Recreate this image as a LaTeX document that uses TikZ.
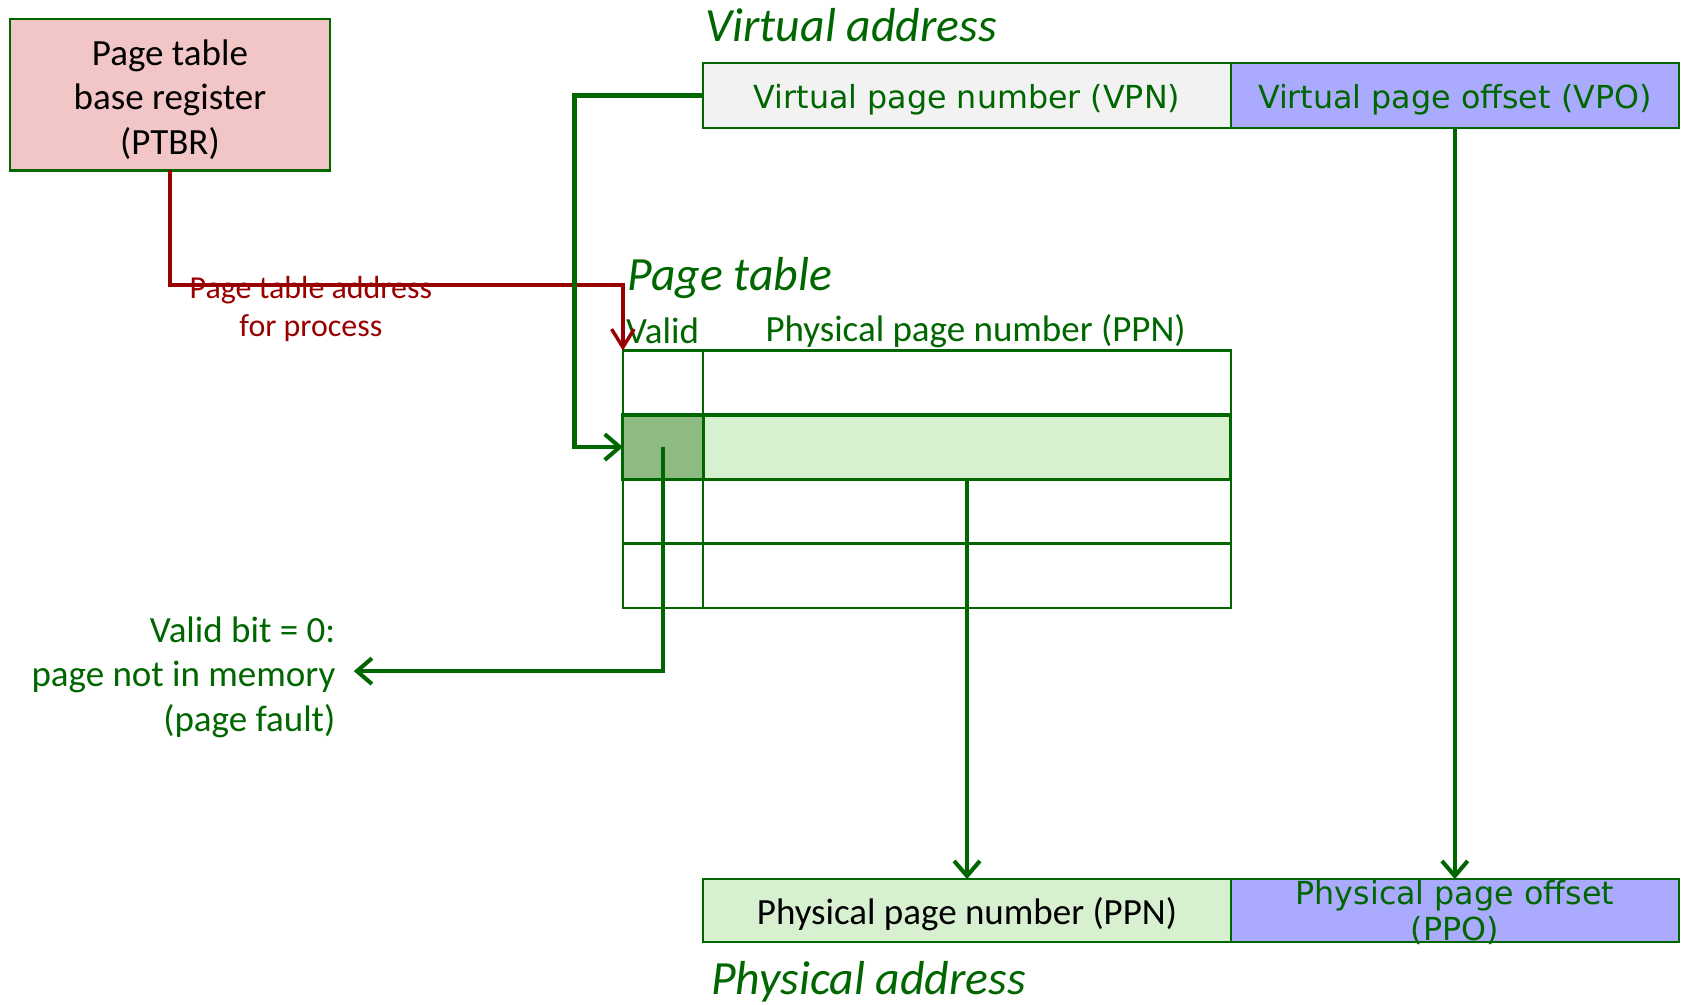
\documentclass[tikz,border=0pt]{standalone}
\usepackage{fontspec}
\setmainfont{Carlito}
\newfontfamily\dejavu{DejaVu Sans}
\usetikzlibrary{arrows.meta}

\definecolor{dkgreen}{RGB}{0,102,0}
\definecolor{dkred}{RGB}{153,0,0}
\definecolor{ptbrpink}{RGB}{242,198,198}
\definecolor{rowgreen}{RGB}{214,240,208}
\definecolor{validgreen}{RGB}{141,187,130}
\definecolor{offsetblue}{RGB}{170,170,255}
\definecolor{vpngray}{RGB}{242,242,242}

\tikzset{
  cell/.style={draw=dkgreen, line width=2pt, inner sep=0pt, outer sep=0pt},
  bodytext/.style={font=\fontsize{34.5}{41.5}\selectfont, inner sep=0pt},
  dvtext/.style={font=\dejavu\fontsize{29.6}{34}\selectfont, text=dkgreen, inner sep=0pt},
  heading/.style={font=\fontsize{44.5}{53}\selectfont\itshape, text=dkgreen, inner sep=0pt, anchor=west},
  link/.style={draw=dkgreen, line width=4pt,
    -{Straight Barb[length=14pt,width=24pt,line width=3.8pt]}},
  redlink/.style={draw=dkred, line width=3.8pt,
    -{Straight Barb[length=17pt,width=21pt,line width=3.2pt]}},
}

\begin{document}
\begin{tikzpicture}[x=1pt, y=-1pt]
\useasboundingbox (0,0) rectangle (1568,937);

% page table base register
\node[cell, fill=ptbrpink, minimum width=299pt, minimum height=141pt] (ptbr) at (158.5,88.5) {};
\node[bodytext, align=center, yshift=-4.5pt] (ptbrtext) at (ptbr.center)
      {Page table\\base register\\(PTBR)};

% virtual address
\node[heading] (vatitle) at (658,23) {Virtual address};
\node[cell, fill=vpngray, minimum width=492pt, minimum height=60pt] (vpn) at (902,89) {};
\node[dvtext, yshift=-4pt] (vpntext) at (vpn.center) {Virtual page number (VPN)};
\node[cell, fill=offsetblue, minimum width=418pt, minimum height=60pt] (vpo) at (1357,89) {};
\node[dvtext, yshift=-4pt] (vpotext) at (vpo.center) {Virtual page offset (VPO)};

% page table
\node[heading] (pttitle) at (585,259) {Page table};
\node[bodytext, text=dkgreen] (validhead) at (618,309) {Valid};
\node[bodytext, text=dkgreen] (ppnhead) at (910,309) {Physical page number (PPN)};

\node[cell, minimum width=75pt, minimum height=60pt] (v1) at (618.5,357) {};
\node[cell, minimum width=492pt, minimum height=60pt] (p1) at (902,357) {};
\node[cell, fill=validgreen, minimum width=75pt, minimum height=60pt, line width=3pt] (v2) at (618.5,417) {};
\node[cell, fill=rowgreen, minimum width=492pt, minimum height=60pt, line width=3pt] (p2) at (902,417) {};
\node[cell, minimum width=75pt, minimum height=60pt] (v3) at (618.5,477) {};
\node[cell, minimum width=492pt, minimum height=60pt] (p3) at (902,477) {};
\node[cell, minimum width=75pt, minimum height=60pt] (v4) at (618.5,537) {};
\node[cell, minimum width=492pt, minimum height=60pt] (p4) at (902,537) {};

% physical address
\node[cell, fill=rowgreen, minimum width=492pt, minimum height=59pt] (ppn) at (902,849.5) {};
\node[bodytext, yshift=-3pt] (ppntext) at (ppn.center) {Physical page number (PPN)};
\node[cell, fill=offsetblue, minimum width=418pt, minimum height=59pt] (ppo) at (1357,849.5) {};
\node[dvtext, align=center, yshift=-1.5pt] (ppotext) at (ppo.center) {Physical page offset\\(PPO)};
\node[heading] (patitle) at (663,916) {Physical address};

% notes
\node[font=\fontsize{29.8}{35}\selectfont, text=dkred, align=center, inner sep=0pt]
      (ptaddr) at (290,288) {Page table address\\for process};
\node[bodytext, text=dkgreen, align=right, anchor=east]
      (fault) at (313,631.5) {Valid bit = 0:\\page not in memory\\(page fault)};

% connectors
\draw[redlink] (ptbr.south) -- (ptbr.south |- 0,266) -- (v1.north west |- 0,266) -- (v1.north west);
\draw[link] (vpn.west) -- ++(-120,0) |- (v2.west);
\draw[link] (v2.center) -- (v2.center |- 0,626) -- ([xshift=17pt]fault.east |- 0,626);
\draw[link] (p2.south) -- (ppn.north);
\draw[link] (vpo.south) -- (ppo.north);
\end{tikzpicture}
\end{document}
